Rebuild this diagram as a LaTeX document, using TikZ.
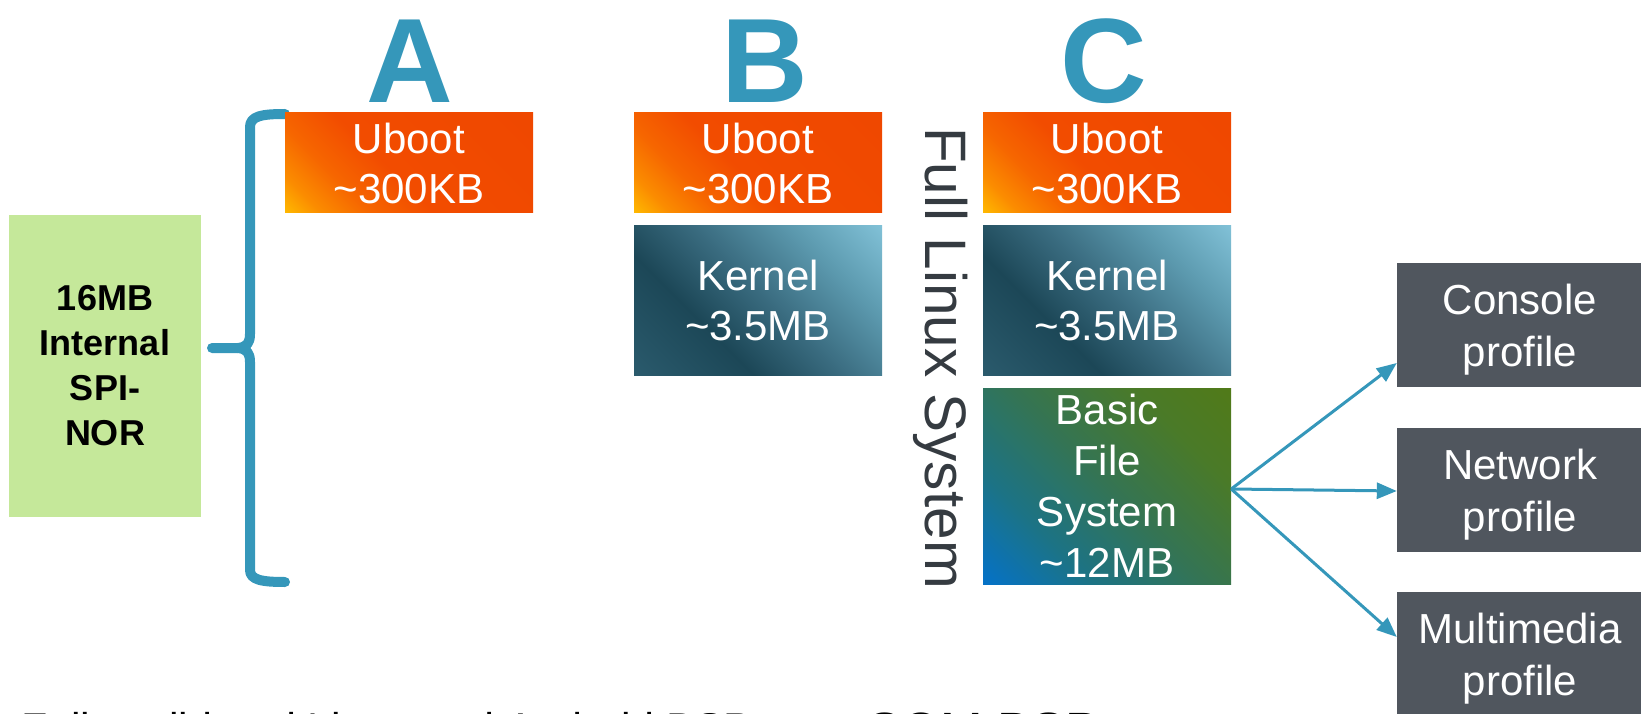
\documentclass[tikz,border=0pt]{standalone}
\usepackage{fontspec}
\setmainfont{Liberation Sans}
\usetikzlibrary{arrows.meta}

\definecolor{brblue}{HTML}{3597BA}
\definecolor{norgreen}{HTML}{C5E89A}
\definecolor{profgray}{HTML}{50565E}
\definecolor{fullgray}{HTML}{353B41}
% uboot
\definecolor{ubA}{HTML}{FFBC00}
\definecolor{ubB}{HTML}{FB8C00}
\definecolor{ubC}{HTML}{F66600}
\definecolor{ubD}{HTML}{F24C00}
\definecolor{ubE}{HTML}{EE4600}
% kernel
\definecolor{knA}{HTML}{2A5A6C}
\definecolor{knB}{HTML}{1C4757}
\definecolor{knC}{HTML}{3A6C80}
\definecolor{knD}{HTML}{5E9CB1}
\definecolor{knE}{HTML}{82C2D8}
% file system
\definecolor{fsA}{HTML}{0572C6}
\definecolor{fsB}{HTML}{1C7385}
\definecolor{fsC}{HTML}{347454}
\definecolor{fsD}{HTML}{4A7A28}
\definecolor{fsE}{HTML}{517A18}

\pgfdeclareverticalshading{ubootsh}{100bp}{color(0bp)=(ubA); color(14bp)=(ubA); color(22bp)=(ubB); color(32bp)=(ubC); color(45bp)=(ubD); color(100bp)=(ubE)}
\pgfdeclareverticalshading{kernelsh}{100bp}{color(0bp)=(knA); color(15bp)=(knA); color(36bp)=(knB); color(52bp)=(knC); color(70bp)=(knD); color(86bp)=(knE); color(100bp)=(knE)}
\pgfdeclareverticalshading{fssh}{100bp}{color(0bp)=(fsA); color(15bp)=(fsA); color(32bp)=(fsB); color(50bp)=(fsC); color(70bp)=(fsD); color(86bp)=(fsE); color(100bp)=(fsE)}

\tikzset{
  box/.style={minimum width=248pt, inner sep=0pt, text=white, align=center,
    font=\fontsize{42}{50}\selectfont},
  ubootbox/.style={box, minimum height=100pt, shading=ubootsh, shading angle=-45},
  kernelbox/.style={box, minimum height=149pt, shading=kernelsh, shading angle=-45},
  fsbox/.style={box, minimum height=196pt, shading=fssh, shading angle=-45,
    font=\fontsize{42}{51}\selectfont},
  profbox/.style={fill=profgray, minimum width=246pt, minimum height=124pt, inner sep=0pt},
  proftext/.style={inner sep=0pt, text=white, align=center,
    font=\fontsize{42}{52}\selectfont},
  bigletter/.style={text=brblue, font=\bfseries\fontsize{120}{120}\selectfont,
    inner sep=0pt, anchor=base},
  arr/.style={draw=brblue, line width=3pt, -{Triangle[length=20pt,width=16pt]}},
  bracepath/.style={draw=brblue, line width=10pt, line cap=round, line join=round},
}

\begin{document}
\begin{tikzpicture}[x=1pt, y=-1pt]
\useasboundingbox (0,0) rectangle (1641,714);
\clip (0,0) rectangle (1641,714);

% left memory box
\node[fill=norgreen, minimum width=192pt, minimum height=302pt, inner sep=0pt,
  align=center, font=\bfseries\fontsize{36}{45}\selectfont] (nor) at (105,366)
  {16MB\\Internal\\SPI-\\NOR};

% brace
\draw[bracepath] (285,114) .. controls (262,114) and (250,116) .. (250,127)
  -- (250,334) .. controls (250,343) and (247,347) .. (238,348) -- (212,348);
\draw[bracepath] (238,348) .. controls (247,349) and (250,353) .. (250,362)
  -- (250,570) .. controls (250,580) and (262,582) .. (285,582);

% column letters
\node[bigletter] (la) at (410,103) {A};
\node[bigletter] (lb) at (765,103) {B};
\node[bigletter] (lc) at (1104,103) {C};

% column A
\node[ubootbox] (ua) at (409,163) {Uboot\\\textasciitilde300KB};
% column B
\node[ubootbox] (ub) at (758,163) {Uboot\\\textasciitilde300KB};
\node[kernelbox] (kb) at (758,300.5) {Kernel\\\textasciitilde3.5MB};
% column C
\node[ubootbox] (uc) at (1107,163) {Uboot\\\textasciitilde300KB};
\node[kernelbox] (kc) at (1107,300.5) {Kernel\\\textasciitilde3.5MB};
\node[fsbox] (fs) at (1107,486) {Basic\\File\\System\\\textasciitilde12MB};

% vertical label
\node[rotate=-90, anchor=base, inner sep=0pt, text=fullgray,
  font=\fontsize{58.5}{58.5}\selectfont] (fls) at (925,358) {Full Linux System};

% profiles
\node[profbox] (con) at (1520,325) {};
\node[proftext] (conT) at ([yshift=-5pt]con.center) {Console\\profile};
\node[profbox] (net) at (1520,490) {};
\node[proftext] (netT) at ([yshift=-5pt]net.center) {Network\\profile};
\node[profbox] (mm) at (1520,654) {};
\node[proftext] (mmT) at ([yshift=-5pt]mm.center) {Multimedia\\profile};

\coordinate (src) at ([yshift=-3pt]fs.east);
\coordinate (tcon) at ([yshift=-38pt]con.west);
\coordinate (tnet) at ([yshift=-1pt]net.west);
\coordinate (tmm) at ([yshift=17pt]mm.west);
\draw[arr] (src) -- (tcon);
\draw[arr] (src) -- (tnet);
\draw[arr] (src) -- (tmm);

% bottom texts (cut off by the frame)
\node[anchor=base west, inner sep=0pt, font=\fontsize{43}{43}\selectfont]
  (bsp) at (21,743) {Fully validated Linux and Android BSP};
\node[anchor=base west, inner sep=0pt, font=\fontsize{51}{51}\selectfont]
  (som) at (867,748) {SOM BSP};
\end{tikzpicture}
\end{document}
